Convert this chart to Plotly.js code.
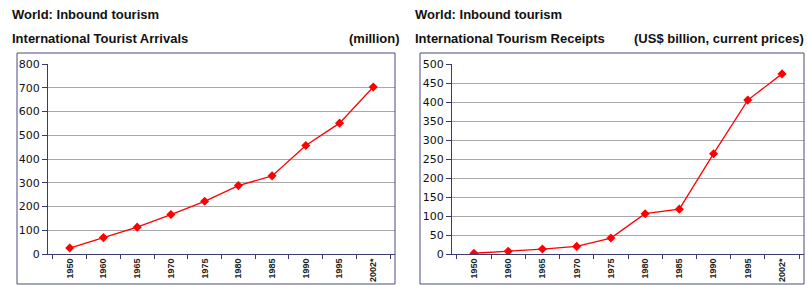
<!DOCTYPE html>
<html>
<head>
<meta charset="utf-8">
<script src="https://cdn.plot.ly/plotly-3.0.1.min.js"></script>
<style>html,body{margin:0;padding:0;background:#fff}#chart{width:807px;height:285px}</style>
</head>
<body>
<div id="chart"></div>
<script>
const years = ["1950","1960","1965","1970","1975","1980","1985","1990","1995","2002*"];
const arrivals = [25, 69, 113, 166, 222, 288, 329, 457, 551, 703];
const receipts = [2, 7, 13, 20, 42, 106, 118, 264, 405, 474];
const arrivalTicks = [0,100,200,300,400,500,600,700,800];
const receiptTicks = [0,50,100,150,200,250,300,350,400,450,500];

const W = 807, H = 285;
const px = v => v / W, py = v => 1 - v / H;

const lineStyle = {color: '#ff0000', width: 1.3};
const markerStyle = {symbol: 'diamond', size: 7, color: '#ff0000'};

const traces = [
  {x: years, y: arrivals, xaxis: 'x', yaxis: 'y', type: 'scatter', mode: 'lines+markers',
   line: lineStyle, marker: markerStyle, hoverinfo: 'x+y'},
  {x: years, y: receipts, xaxis: 'x2', yaxis: 'y2', type: 'scatter', mode: 'lines+markers',
   line: lineStyle, marker: markerStyle, hoverinfo: 'x+y'}
];

const axisLine = '#3a3a6e';
const xCommon = {
  type: 'category', showline: true, linecolor: axisLine, linewidth: 1,
  ticks: 'outside', tickson: 'boundaries', ticklen: 4, tickcolor: axisLine,
  tickangle: -90, showgrid: false, zeroline: false,
  tickfont: {family: 'Liberation Sans, Arial', size: 9, color: '#222', weight: 'bold'},
  fixedrange: true
};
const yCommon = {
  showline: true, linecolor: axisLine, linewidth: 1,
  ticks: 'outside', ticklen: 5, tickcolor: axisLine,
  showgrid: true, gridcolor: '#a8a8a8', gridwidth: 1, zeroline: false,
  tickfont: {family: 'DejaVu Sans, Verdana', size: 11, color: '#111'},
  fixedrange: true
};

const titleFont = {family: 'Liberation Sans, Arial', size: 13, color: '#111', weight: 'bold'};
function ann(text, x, y, anchor) {
  return {text: '<b>' + text + '</b>', xref: 'paper', yref: 'paper', x: px(x), y: py(y),
          xanchor: anchor, yanchor: 'middle', showarrow: false, font: titleFont};
}

const layout = {
  width: W, height: H,
  margin: {l: 0, r: 0, t: 0, b: 0},
  paper_bgcolor: '#ffffff', plot_bgcolor: '#ffffff',
  showlegend: false,
  xaxis: Object.assign({}, xCommon, {domain: [px(48), px(395)], anchor: 'y'}),
  yaxis: Object.assign({}, yCommon, {domain: [py(254), py(64)], range: [0, 800],
         tickvals: arrivalTicks, anchor: 'x'}),
  xaxis2: Object.assign({}, xCommon, {domain: [px(452), px(804)], anchor: 'y2'}),
  yaxis2: Object.assign({}, yCommon, {domain: [py(254), py(64)], range: [0, 500],
         tickvals: receiptTicks, anchor: 'x2'}),
  annotations: [
    ann('World: Inbound tourism', 10, 15, 'left'),
    ann('International Tourist Arrivals', 10, 39, 'left'),
    ann('(million)', 402, 39, 'right'),
    ann('World: Inbound tourism', 413, 15, 'left'),
    ann('International Tourism Receipts', 413, 39, 'left'),
    ann('(US$ billion, current prices)', 806, 39, 'right')
  ],
  shapes: [
    {type: 'rect', xref: 'paper', yref: 'paper', x0: px(17), x1: px(395), y0: py(284), y1: py(53),
     line: {color: '#4a4a7e', width: 1}, fillcolor: 'rgba(0,0,0,0)', layer: 'above'},
    {type: 'rect', xref: 'paper', yref: 'paper', x0: px(420), x1: px(804), y0: py(284), y1: py(53),
     line: {color: '#4a4a7e', width: 1}, fillcolor: 'rgba(0,0,0,0)', layer: 'above'}
  ]
};

Plotly.newPlot('chart', traces, layout, {displayModeBar: false, staticPlot: true});
</script>
</body>
</html>
